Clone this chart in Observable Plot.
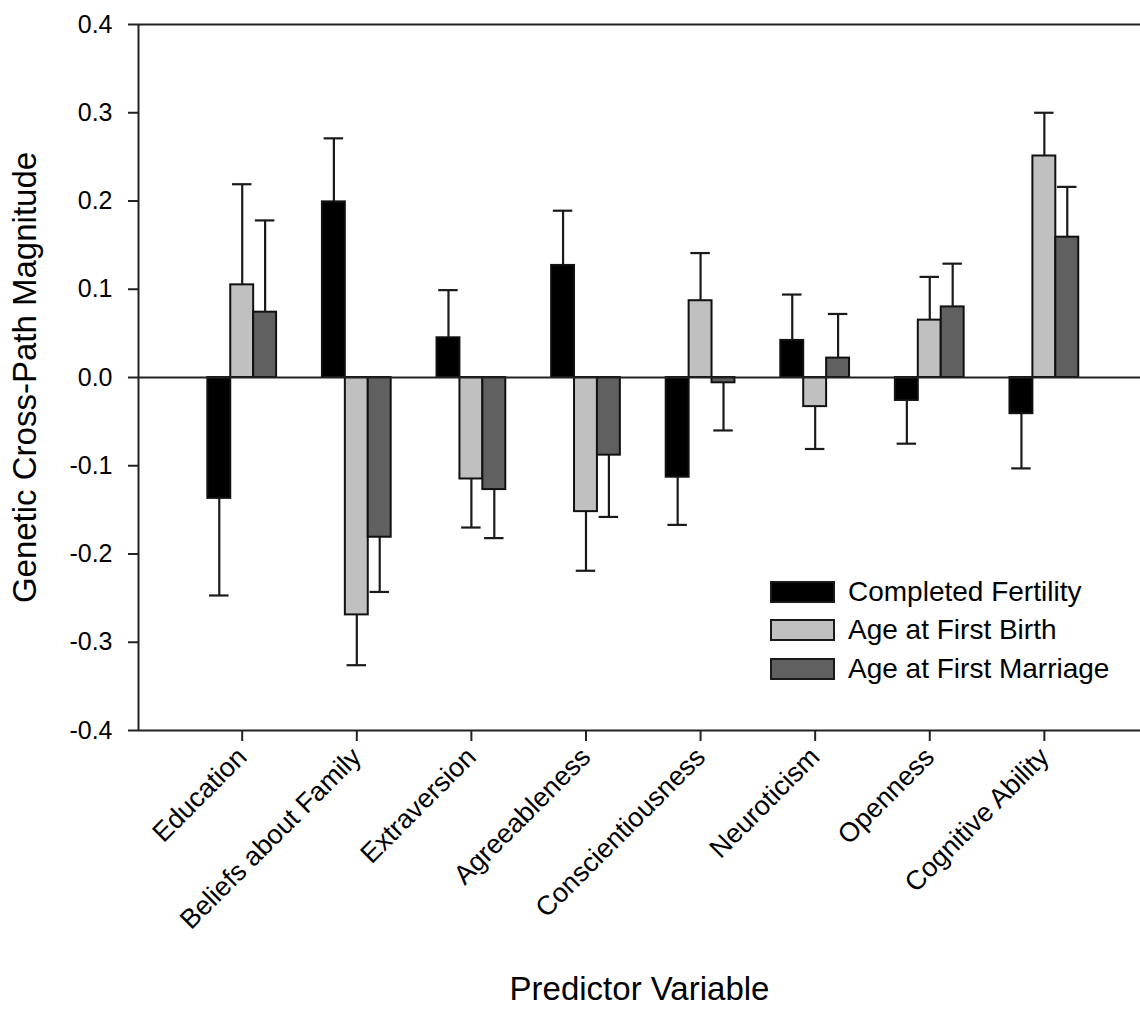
<!DOCTYPE html>
<html>
<head>
<meta charset="utf-8">
<script src="https://cdn.jsdelivr.net/npm/d3@7"></script>
<script src="https://cdn.jsdelivr.net/npm/@observablehq/plot@0.6"></script>
<style>
  body { margin: 0; background: #fff; font-family: "Liberation Sans", Arial, sans-serif; }
  #wrap { position: relative; width: 1140px; height: 1017px; }
  #legend { position: absolute; left: 770px; top: 572.8px; }
  .row { display: flex; align-items: center; height: 38.3px; }
  .sw { box-sizing: border-box; width: 65px; height: 22px; border: 2px solid #1a1a1a; margin-right: 13px; }
  .lab { font-size: 28px; color: #000; white-space: nowrap; }
</style>
</head>
<body>
<div id="wrap"><div id="legend"></div></div>
<script>
// ---- data ----
const categories = ["Education", "Beliefs about Family", "Extraversion", "Agreeableness",
  "Conscientiousness", "Neuroticism", "Openness", "Cognitive Ability"];
const seriesNames = ["Completed Fertility", "Age at First Birth", "Age at First Marriage"];
const seriesColors = ["#000000", "#c0c0c0", "#606060"];

const fertility    = [-0.137, 0.199, 0.045, 0.127, -0.113, 0.042, -0.026, -0.041];
const fertilityErr = [ 0.110, 0.072, 0.054, 0.062,  0.054, 0.052,  0.049,  0.062];
const birth        = [ 0.105, -0.269, -0.115, -0.152, 0.087, -0.033, 0.065, 0.251];
const birthErr     = [ 0.114,  0.057,  0.055,  0.067, 0.054,  0.048, 0.049, 0.049];
const marriage     = [ 0.074, -0.181, -0.127, -0.088, -0.006, 0.022, 0.080, 0.159];
const marriageErr  = [ 0.104,  0.062,  0.055,  0.070,  0.054, 0.050, 0.049, 0.057];

const yTicks = [-0.4, -0.3, -0.2, -0.1, 0.0, 0.1, 0.2, 0.3, 0.4];
const yTitle = "Genetic Cross-Path Magnitude";
const xTitle = "Predictor Variable";

// ---- build table ----
const values = [fertility, birth, marriage];
const errors = [fertilityErr, birthErr, marriageErr];
const barW = 0.2;      // width of one bar in category units
const capHalf = 0.085; // half width of error-bar cap
const rows = [];
values.forEach((vals, j) => vals.forEach((v, i) => {
  const x1 = i - 1.5 * barW + j * barW;
  rows.push({
    category: categories[i], series: seriesNames[j], value: v, err: errors[j][i],
    x1, x2: x1 + barW, xc: x1 + barW / 2,
    end: v + Math.sign(v) * errors[j][i]
  });
}));

const xDomain = [-0.905, 7.839];
const font = "'Liberation Sans', Arial, sans-serif";

const chart = Plot.plot({
  width: 1140, height: 1017,
  marginLeft: 138, marginRight: 0, marginTop: 24, marginBottom: 287,
  style: { fontFamily: font, background: "white", color: "black", overflow: "visible" },
  x: { type: "linear", domain: xDomain },
  y: { domain: [-0.4, 0.4] },
  color: { domain: seriesNames, range: seriesColors },
  marks: [
    Plot.rect(rows, { x1: "x1", x2: "x2", y1: 0, y2: "value", fill: "series", stroke: "#111", strokeWidth: 2 }),
    Plot.ruleX(rows, { x: "xc", y1: "value", y2: "end", stroke: "#1a1a1a", strokeWidth: 2.2 }),
    Plot.ruleY(rows, { y: "end", x1: d => d.xc - capHalf, x2: d => d.xc + capHalf, stroke: "#1a1a1a", strokeWidth: 2.2 }),
    Plot.ruleY([0], { stroke: "#222", strokeWidth: 2 }),
    Plot.ruleY([yTicks[0], yTicks[yTicks.length - 1]], { stroke: "#222", strokeWidth: 2 }),
    Plot.ruleX([xDomain[0]], { stroke: "#222", strokeWidth: 2 }),
    Plot.axisY({ ticks: yTicks, tickFormat: d => d.toFixed(1), tickSize: 10, tickPadding: 16,
      fontSize: 25, label: null, strokeWidth: 2, stroke: "#222" }),
    Plot.axisX({ ticks: d3.range(categories.length), tickFormat: i => categories[i],
      tickRotate: -45, tickSize: 11, tickPadding: 11, fontSize: 27, label: null, strokeWidth: 2, stroke: "#222" }),
    Plot.text([yTitle], { text: d => d, frameAnchor: "left", textAnchor: "middle", rotate: -90, dx: -113, fontSize: 33, fill: "black" }),
    Plot.text([xTitle], { text: d => d, frameAnchor: "bottom", dy: 269, fontSize: 33, fill: "black" })
  ]
});
document.getElementById("wrap").prepend(chart);

// ---- legend ----
const legend = document.getElementById("legend");
seriesNames.forEach((name, j) => {
  const row = document.createElement("div");
  row.className = "row";
  const sw = document.createElement("div");
  sw.className = "sw";
  sw.style.background = seriesColors[j];
  const lab = document.createElement("span");
  lab.className = "lab";
  lab.textContent = name;
  row.append(sw, lab);
  legend.append(row);
});
</script>
</body>
</html>
